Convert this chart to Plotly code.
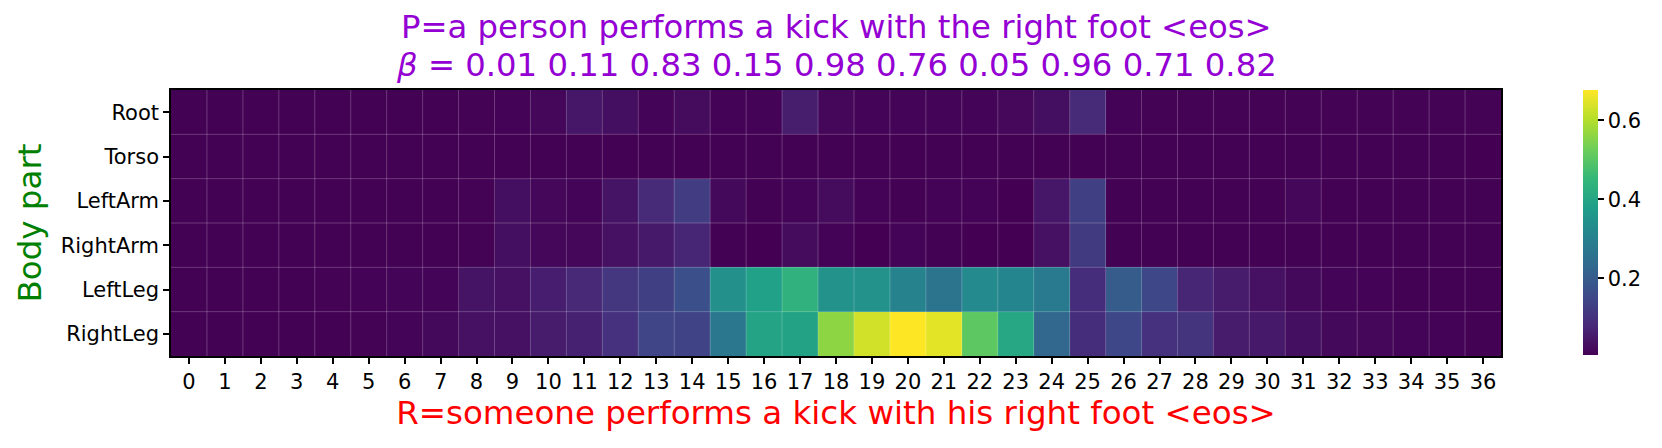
import plotly.graph_objects as go

# body parts (top to bottom) and frame indices
body_parts = ["Root", "Torso", "LeftArm", "RightArm", "LeftLeg", "RightLeg"]
frames = list(range(37))

root = [0.006, 0.006, 0.006, 0.006, 0.006, 0.006, 0.006, 0.006, 0.007, 0.008, 0.015, 0.045,
        0.03, 0.01, 0.025, 0.008, 0.008, 0.058, 0.015, 0.012, 0.01, 0.012, 0.01, 0.018,
        0.03, 0.085, 0.008, 0.007, 0.007, 0.007, 0.007, 0.007, 0.007, 0.007, 0.007, 0.007, 0.007]
torso = [0.005, 0.005, 0.005, 0.005, 0.005, 0.005, 0.005, 0.005, 0.005, 0.005, 0.006, 0.005,
         0.005, 0.006, 0.005, 0.006, 0.005, 0.005, 0.005, 0.005, 0.005, 0.005, 0.005, 0.005,
         0.005, 0.006, 0.005, 0.005, 0.005, 0.005, 0.005, 0.005, 0.005, 0.005, 0.005, 0.005, 0.004]
left_arm = [0.006, 0.006, 0.006, 0.006, 0.006, 0.006, 0.006, 0.006, 0.007, 0.03, 0.015, 0.01,
            0.04, 0.085, 0.125, 0.02, 0.005, 0.012, 0.025, 0.008, 0.005, 0.008, 0.008, 0.004,
            0.045, 0.13, 0.006, 0.006, 0.006, 0.006, 0.006, 0.015, 0.006, 0.006, 0.006, 0.006, 0.006]
right_arm = [0.005, 0.005, 0.005, 0.005, 0.005, 0.005, 0.005, 0.005, 0.007, 0.03, 0.015, 0.015,
             0.035, 0.05, 0.075, 0.005, 0.004, 0.025, 0.008, 0.004, 0.01, 0.006, 0.004, 0.004,
             0.035, 0.12, 0.005, 0.005, 0.005, 0.005, 0.005, 0.005, 0.005, 0.005, 0.005, 0.005, 0.005]
left_leg = [0.006, 0.006, 0.006, 0.006, 0.007, 0.008, 0.01, 0.012, 0.04, 0.035, 0.06, 0.08,
            0.11, 0.13, 0.17, 0.34, 0.385, 0.435, 0.345, 0.345, 0.305, 0.26, 0.325, 0.31,
            0.28, 0.09, 0.2, 0.15, 0.075, 0.055, 0.035, 0.02, 0.012, 0.008, 0.006, 0.006, 0.005]
right_leg = [0.006, 0.006, 0.006, 0.006, 0.006, 0.007, 0.01, 0.02, 0.035, 0.035, 0.055, 0.065,
             0.1, 0.145, 0.14, 0.27, 0.395, 0.39, 0.56, 0.63, 0.676, 0.65, 0.505, 0.405,
             0.225, 0.09, 0.15, 0.1, 0.105, 0.055, 0.05, 0.03, 0.02, 0.015, 0.01, 0.008, 0.006]

z = [root, torso, left_arm, right_arm, left_leg, right_leg]
zmin = min(min(r) for r in z)
zmax = max(max(r) for r in z)

cbar_ticks = [0.2, 0.4, 0.6]

title_lines = ["P=a person performs a kick with the right foot &lt;eos&gt;",
               "<i>β</i> = 0.01 0.11 0.83 0.15 0.98 0.76 0.05 0.96 0.71 0.82"]
xlabel = "R=someone performs a kick with his right foot &lt;eos&gt;"

fig = go.Figure(go.Heatmap(
    z=z, x=frames, y=list(range(len(body_parts))),
    colorscale="Viridis", zmin=zmin, zmax=zmax,
    colorbar=dict(
        x=1.0617, xanchor="left", xpad=0, ypad=0, thickness=15,
        lenmode="pixels", len=265, y=0.5, yanchor="middle",
        outlinewidth=0, tickvals=cbar_ticks, ticks="outside",
        ticklen=6, tickwidth=1.5, tickcolor="black",
        tickfont=dict(size=21, color="black"),
    ),
))

# thin white cell borders
for k in frames[:-1]:
    fig.add_shape(type="line", xref="x", yref="y", x0=k + 0.5, x1=k + 0.5,
                  y0=-0.5, y1=len(body_parts) - 0.5,
                  line=dict(color="rgba(255,255,255,0.22)", width=1), layer="above")
for i in range(len(body_parts) - 1):
    fig.add_shape(type="line", xref="x", yref="y", x0=-0.5, x1=len(frames) - 0.5,
                  y0=i + 0.5, y1=i + 0.5,
                  line=dict(color="rgba(255,255,255,0.22)", width=1), layer="above")

# two-line title, one annotation per line to get the tighter line spacing
for txt, shift in zip(title_lines, [63, 25]):
    fig.add_annotation(text=txt, xref="paper", yref="paper", x=0.5, y=1,
                       xanchor="center", yanchor="middle", yshift=shift,
                       showarrow=False, font=dict(size=32.3, color="#9400D3"))

# page body has an 8px default margin, so the figure is 8px smaller
fig.update_layout(
    width=1654, height=440,
    margin=dict(l=163, r=161, t=82, b=92),
    paper_bgcolor="white", plot_bgcolor="white",
    font=dict(family="DejaVu Sans", color="black"),
)
fig.update_xaxes(
    range=[-0.5, len(frames) - 0.5], tickvals=frames, ticks="outside",
    ticklen=6, tickwidth=1.5, tickcolor="black", tickfont=dict(size=21),
    showline=True, linecolor="black", linewidth=1.5, mirror=True,
    showgrid=False, zeroline=False, automargin=False,
    title=dict(text=xlabel, font=dict(size=32.5, color="red"), standoff=2),
)
fig.update_yaxes(
    range=[len(body_parts) - 0.5, -0.5], tickvals=list(range(len(body_parts))),
    ticktext=body_parts, ticks="outside",
    ticklen=6, tickwidth=1.5, tickcolor="black", tickfont=dict(size=21),
    showline=True, linecolor="black", linewidth=1.5, mirror=True,
    showgrid=False, zeroline=False, automargin=False,
    title=dict(text="Body part", font=dict(size=32.5, color="green"), standoff=9),
)

fig.write_html("out.html")
